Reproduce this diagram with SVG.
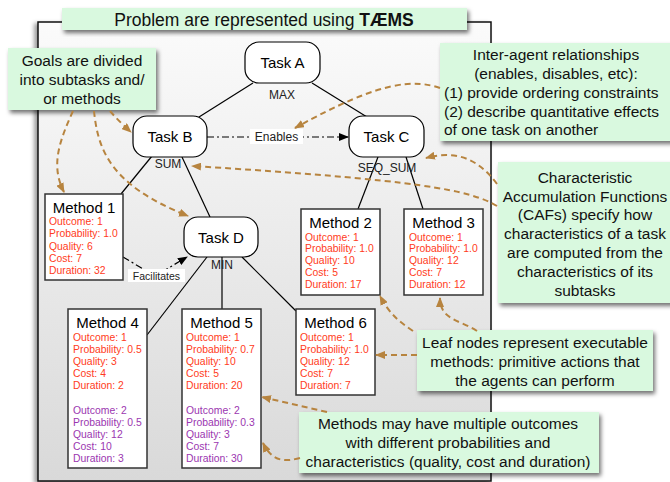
<svg xmlns="http://www.w3.org/2000/svg" width="670" height="482" viewBox="0 0 670 482">
<defs>
  <linearGradient id="panelGrad" x1="0" y1="0" x2="0" y2="1">
    <stop offset="0" stop-color="#fbfbfb"/>
    <stop offset="1" stop-color="#d9d9d9"/>
  </linearGradient>
  <filter id="shadow" x="-10%" y="-10%" width="130%" height="140%">
    <feDropShadow dx="2" dy="3" stdDeviation="2" flood-color="#000" flood-opacity="0.55"/>
  </filter>
  <filter id="panelShadow" x="-5%" y="-5%" width="110%" height="110%">
    <feDropShadow dx="-3" dy="2" stdDeviation="2" flood-color="#000" flood-opacity="0.4"/>
  </filter>
  <marker id="tan" viewBox="0 0 10 8" refX="9" refY="4" markerWidth="10" markerHeight="8" markerUnits="userSpaceOnUse" orient="auto">
    <path d="M0,0 L10,4 L0,8 z" fill="#b7843f"/>
  </marker>
  <marker id="blk" viewBox="0 0 10 8" refX="9" refY="4" markerWidth="10" markerHeight="8" markerUnits="userSpaceOnUse" orient="auto">
    <path d="M0,0 L10,4 L0,8 z" fill="#000"/>
  </marker>
</defs>
<style>
  text { font-family: "Liberation Sans", Arial, sans-serif; }
  .note { fill: #d9f9df; filter: url(#shadow); }
  .nt { font-size: 15.5px; fill: #111; text-anchor: middle; }
  .ntl { font-size: 15.5px; fill: #111; text-anchor: start; }
  .task { fill: #fff; stroke: #000; stroke-width: 1.2; }
  .tt { font-size: 15px; fill: #000; text-anchor: middle; }
  .caf { font-size: 12px; fill: #222; text-anchor: middle; }
  .meth { fill: #fff; stroke: #333; stroke-width: 1.5; }
  .mt { font-size: 15px; fill: #000; text-anchor: middle; }
  .r { font-size: 10.4px; fill: #ff3b22; }
  .p { font-size: 10.4px; fill: #9b36b0; }
  .edge { stroke: #000; stroke-width: 1.2; fill: none; }
  .dd { stroke: #000; stroke-width: 1.2; fill: none; stroke-dasharray: 7 3 2 3; }
  .ann { stroke: #b7843f; stroke-width: 2; fill: none; stroke-dasharray: 6 4; marker-end: url(#tan); }
  .lbl { font-size: 12px; fill: #222; text-anchor: middle; }
</style>

<!-- panel -->
<rect x="38" y="22" width="453" height="459" fill="url(#panelGrad)" stroke="#111" stroke-width="1.5" filter="url(#panelShadow)"/>

<!-- title -->
<g id="title">
  <rect class="note" x="62" y="8" width="405" height="22"/>
  <text x="264" y="26" font-size="17.5" text-anchor="middle" fill="#111">Problem are represented using <tspan font-weight="bold">TÆMS</tspan></text>
</g>

<!-- connectors -->
<g id="connectors">
  <line class="edge" x1="253" y1="83" x2="199" y2="117"/>
  <line class="edge" x1="312" y1="83" x2="367" y2="117"/>
  <line class="edge" x1="152" y1="156" x2="121" y2="194"/>
  <line class="edge" x1="182" y1="157" x2="210" y2="217"/>
  <line class="edge" x1="378" y1="157" x2="358" y2="209"/>
  <line class="edge" x1="406" y1="157" x2="423" y2="209"/>
  <line class="edge" x1="207" y1="257" x2="147" y2="335"/>
  <line class="edge" x1="222" y1="257" x2="222" y2="309"/>
  <line class="edge" x1="242" y1="257" x2="296" y2="311"/>
  <path class="dd" d="M207,137 L348,137" marker-end="url(#blk)"/>
  <path class="dd" d="M123,257 L155,276 L187,257" marker-end="url(#blk)"/>
</g>

<!-- tasks -->
<g id="taskA">
  <rect class="task" x="245" y="42" width="75" height="41" rx="14" ry="14"/>
  <text class="tt" x="282.5" y="68">Task A</text>
  <text class="caf" x="282" y="99">MAX</text>
</g>
<g id="taskB">
  <rect class="task" x="133" y="116" width="74" height="41" rx="14" ry="14"/>
  <text class="tt" x="170" y="142">Task B</text>
  <text class="caf" x="168" y="168">SUM</text>
</g>
<g id="taskC">
  <rect class="task" x="349" y="116" width="75" height="41" rx="14" ry="14"/>
  <text class="tt" x="386.5" y="142">Task C</text>
  <text class="caf" x="387" y="172">SEQ_SUM</text>
</g>
<g id="taskD">
  <rect class="task" x="184" y="217" width="74" height="40" rx="14" ry="14"/>
  <text class="tt" x="221" y="242.5">Task D</text>
  <text class="caf" x="222" y="269">MIN</text>
</g>

<!-- edge labels -->
<g id="enablesLabel">
  <rect x="250" y="129" width="53" height="15" fill="#fff"/>
  <text class="lbl" x="276.5" y="141">Enables</text>
</g>
<g id="facilitatesLabel">
  <rect x="128" y="269" width="57" height="13" fill="#fff"/>
  <text x="156.5" y="280" font-size="10.5" fill="#222" text-anchor="middle">Facilitates</text>
</g>

<!-- methods -->
<g id="method1">
  <rect class="meth" x="45" y="194" width="78" height="86"/>
  <text class="mt" x="84" y="212.5">Method 1</text>
  <text class="r" x="49" y="225">Outcome: 1</text>
  <text class="r" x="49" y="237.3">Probability: 1.0</text>
  <text class="r" x="49" y="249.6">Quality: 6</text>
  <text class="r" x="49" y="261.9">Cost: 7</text>
  <text class="r" x="49" y="274.2">Duration: 32</text>
</g>
<g id="method2">
  <rect class="meth" x="301" y="209" width="79" height="86"/>
  <text class="mt" x="340.5" y="227.5">Method 2</text>
  <text class="r" x="305" y="240.5">Outcome: 1</text>
  <text class="r" x="305" y="252.3">Probability: 1.0</text>
  <text class="r" x="305" y="264.1">Quality: 10</text>
  <text class="r" x="305" y="276">Cost: 5</text>
  <text class="r" x="305" y="288">Duration: 17</text>
</g>
<g id="method3">
  <rect class="meth" x="404" y="209" width="79" height="86"/>
  <text class="mt" x="443.5" y="227.5">Method 3</text>
  <text class="r" x="409" y="240.5">Outcome: 1</text>
  <text class="r" x="409" y="252.3">Probability: 1.0</text>
  <text class="r" x="409" y="264.1">Quality: 12</text>
  <text class="r" x="409" y="276">Cost: 7</text>
  <text class="r" x="409" y="288">Duration: 12</text>
</g>
<g id="method4">
  <rect class="meth" x="68" y="309" width="79" height="159"/>
  <text class="mt" x="107.5" y="328">Method 4</text>
  <text class="r" x="73" y="341">Outcome: 1</text>
  <text class="r" x="73" y="353">Probability: 0.5</text>
  <text class="r" x="73" y="365">Quality: 3</text>
  <text class="r" x="73" y="377">Cost: 4</text>
  <text class="r" x="73" y="389">Duration: 2</text>
  <text class="p" x="73" y="414">Outcome: 2</text>
  <text class="p" x="73" y="426">Probability: 0.5</text>
  <text class="p" x="73" y="438">Quality: 12</text>
  <text class="p" x="73" y="450">Cost: 10</text>
  <text class="p" x="73" y="462">Duration: 3</text>
</g>
<g id="method5">
  <rect class="meth" x="182" y="309" width="79" height="159"/>
  <text class="mt" x="221.5" y="328">Method 5</text>
  <text class="r" x="186" y="341">Outcome: 1</text>
  <text class="r" x="186" y="353">Probability: 0.7</text>
  <text class="r" x="186" y="365">Quality: 10</text>
  <text class="r" x="186" y="377">Cost: 5</text>
  <text class="r" x="186" y="389">Duration: 20</text>
  <text class="p" x="186" y="414">Outcome: 2</text>
  <text class="p" x="186" y="426">Probability: 0.3</text>
  <text class="p" x="186" y="438">Quality: 3</text>
  <text class="p" x="186" y="450">Cost: 7</text>
  <text class="p" x="186" y="462">Duration: 30</text>
</g>
<g id="method6">
  <rect class="meth" x="296" y="309" width="79" height="86"/>
  <text class="mt" x="335.5" y="328">Method 6</text>
  <text class="r" x="300" y="341">Outcome: 1</text>
  <text class="r" x="300" y="353">Probability: 1.0</text>
  <text class="r" x="300" y="365">Quality: 12</text>
  <text class="r" x="300" y="377">Cost: 7</text>
  <text class="r" x="300" y="389">Duration: 7</text>
</g>

<!-- annotation notes -->
<g id="noteGoals">
  <rect class="note" x="8" y="48" width="148" height="62"/>
  <text class="nt" x="82" y="65.5">Goals are divided</text>
  <text class="nt" x="82" y="84.5">into subtasks and/</text>
  <text class="nt" x="82" y="103.5">or methods</text>
</g>
<g id="noteInter">
  <rect class="note" x="440" y="43" width="240" height="98"/>
  <text class="nt" x="556" y="59.5">Inter-agent relationships</text>
  <text class="nt" x="556" y="78.5">(enables, disables, etc):</text>
  <text class="ntl" x="444" y="97.5">(1) provide ordering constraints</text>
  <text class="ntl" x="444" y="116.5">(2) describe quantitative effects</text>
  <text class="ntl" x="444" y="135">of one task on another</text>
</g>
<g id="noteCAF">
  <rect class="note" x="498" y="162" width="182" height="141"/>
  <text class="nt" x="585" y="182.5">Characteristic</text>
  <text class="nt" x="585" y="201.5">Accumulation Functions</text>
  <text class="nt" x="585" y="220">(CAFs) specify how</text>
  <text class="nt" x="585" y="239">characteristics of a task</text>
  <text class="nt" x="585" y="257.5">are computed from the</text>
  <text class="nt" x="585" y="276.5">characteristics of its</text>
  <text class="nt" x="585" y="295.5">subtasks</text>
</g>
<g id="noteLeaf">
  <rect class="note" x="417" y="330" width="236" height="61"/>
  <text class="nt" x="535" y="347.5">Leaf nodes represent executable</text>
  <text class="nt" x="535" y="366.5">methods: primitive actions that</text>
  <text class="nt" x="535" y="385.5">the agents can perform</text>
</g>
<g id="noteOutcomes">
  <rect class="note" x="299" y="412" width="300" height="61"/>
  <text class="nt" x="448" y="428.5">Methods may have multiple outcomes</text>
  <text class="nt" x="448" y="447.5">with different probabilities and</text>
  <text class="nt" x="448" y="467">characteristics (quality, cost and duration)</text>
</g>

<!-- annotation arrows -->
<g id="annotationArrows">
  <path class="ann" d="M73,111 C60,140 50,165 64,192"/>
  <path class="ann" d="M94,111 C98,150 110,185 188,216"/>
  <path class="ann" d="M110,111 C116,118 122,124 131,132"/>
  <path class="ann" d="M440,88 C415,80 385,78 295,128"/>
  <path class="ann" d="M497,184 C478,158 455,150 426,158"/>
  <path class="ann" d="M497,206 C470,190 420,180 192,166"/>
  <path class="ann" d="M413,331 C400,322 390,315 380,296"/>
  <path class="ann" d="M477,331 C460,320 440,320 440,298"/>
  <path class="ann" d="M417,355 L376,355"/>
  <path class="ann" d="M327,412 L262,397"/>
  <path class="ann" d="M300,458 C285,462 272,462 263,443"/>
</g>
</svg>
